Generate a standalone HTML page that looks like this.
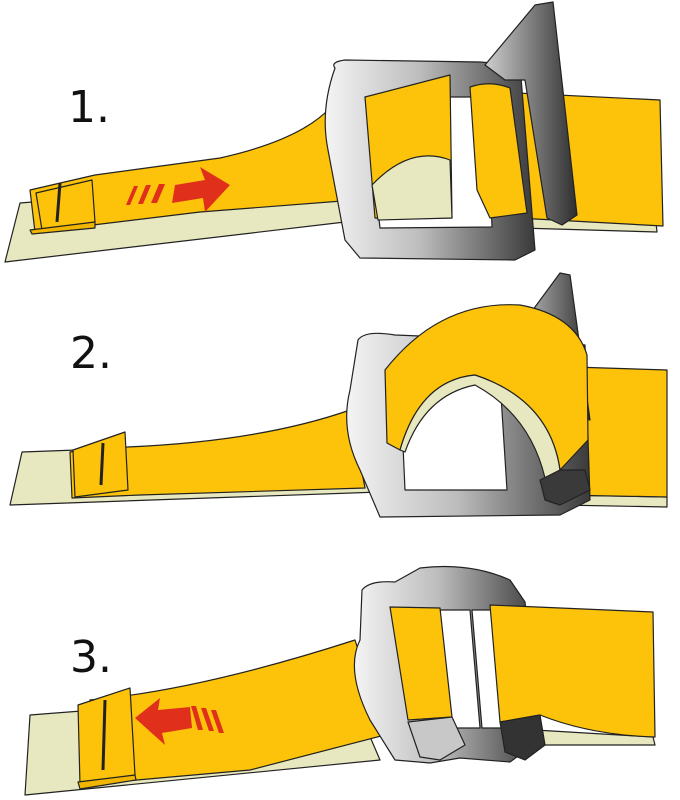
<!DOCTYPE html>
<html><head><meta charset="utf-8"><style>
html,body{margin:0;padding:0;background:#fff;}
svg{display:block}
text{font-family:"DejaVu Sans","Liberation Sans",sans-serif;}
</style></head><body>
<svg width="680" height="800" viewBox="0 0 680 800" xmlns="http://www.w3.org/2000/svg">
<defs>
<linearGradient id="m" x1="0" y1="0" x2="1" y2="0">
<stop offset="0" stop-color="#f4f4f4"/><stop offset="0.45" stop-color="#bdbdbd"/><stop offset="1" stop-color="#3a3a3a"/>
</linearGradient>
<linearGradient id="m2" x1="0" y1="0" x2="1" y2="0">
<stop offset="0" stop-color="#cfcfcf"/><stop offset="1" stop-color="#2e2e2e"/>
</linearGradient>
</defs>
<g stroke="#222" stroke-width="1.2" stroke-linejoin="round">
<!-- PANEL 1 -->
<text x="68" y="122" font-size="44" stroke="none" fill="#111">1.</text>
<path d="M20,203 L330,178 L345,222 L5,262 Z" fill="#e8e8c0"/>
<path d="M515,205 L655,213 L657,232 L520,228 Z" fill="#e8e8c0"/>
<path d="M30,190 L95,175 L220,158 Q300,140 330,108 L355,200 L200,212 L35,232 Z" fill="#fcc30a"/>
<path d="M36,193 L92,180 L95,222 L42,230 Z" fill="#fcc30a"/>
<path d="M30,230 L95,222 L95,228 L32,234 Z" fill="#f0b500"/>
<line x1="60" y1="183" x2="57" y2="222" stroke-width="3"/>
<path d="M517,93 L660,100 L663,226 L517,218 Z" fill="#fcc30a"/>
<path d="M335,68 Q330,62 345,60 L480,62 L520,65 L535,250 L515,260 L360,258 L345,240 L328,150 Q320,110 335,68 Z M365,97 L487,97 L492,227 L380,228 Z" fill="url(#m)" fill-rule="evenodd"/>
<path d="M365,97 L450,75 L452,218 L375,218 Z" fill="#fcc30a"/>
<path d="M372,185 Q410,145 450,160 L452,218 L378,220 Z" fill="#e8e8c0"/>
<path d="M470,87 Q490,80 510,88 L527,213 L490,218 L477,190 Z" fill="#fcc30a"/>
<path d="M485,65 L535,5 L553,2 L577,215 L562,225 L547,218 L525,80 L505,80 Z" fill="url(#m2)"/>
<g stroke="none" fill="#e0301c">
<path d="M175,185 L205,180 L200,167 L230,185 L205,212 L203,198 L172,203 Z"/>
<path d="M126,205 L134,186 L138,186 L130,205 Z"/><path d="M138,204 L146,185 L151,185 L143,204 Z"/><path d="M151,203 L159,184 L165,184 L157,203 Z"/>
</g>
<!-- PANEL 2 -->
<text x="70" y="368" font-size="44" stroke="none" fill="#111">2.</text>
<path d="M22,452 L350,440 L380,492 L10,505 Z" fill="#e8e8c0"/>
<path d="M555,495 L667,497 L667,507 L560,505 Z" fill="#e8e8c0"/>
<path d="M70,452 L95,448 Q250,445 350,410 L365,488 L140,495 L72,498 Z" fill="#fcc30a"/>
<path d="M73,450 L125,432 L128,490 L75,497 Z" fill="#fcc30a"/>
<line x1="103" y1="443" x2="101" y2="485" stroke-width="3"/>
<path d="M573,367 L667,370 L667,497 L560,495 Z" fill="#fcc30a"/>
<path d="M358,340 Q365,330 395,335 L520,340 L585,345 L590,500 L560,515 L380,517 L360,470 Q340,430 350,390 Z M400,380 L500,380 L507,490 L405,490 Z" fill="url(#m)" fill-rule="evenodd"/>
<path d="M513,337 L560,273 L570,275 L590,420 L560,410 Z" fill="url(#m2)"/>
<path d="M387,443 L385,370 Q440,300 520,305 Q575,315 587,355 L588,440 L560,470 Q550,400 475,375 Q420,380 400,450 Z" fill="#fcc30a"/>
<path d="M400,450 Q420,380 475,375 Q550,400 560,470 L545,478 Q530,415 475,385 Q425,395 405,452 Z" fill="#e8e8c0"/>
<path d="M540,480 L560,470 L585,470 L590,490 L560,505 L545,500 Z" fill="#3a3a3a"/>
<!-- PANEL 3 -->
<text x="70" y="672" font-size="44" stroke="none" fill="#111">3.</text>
<path d="M30,715 L350,690 L380,760 L25,795 Z" fill="#e8e8c0"/>
<path d="M535,730 L653,737 L655,745 L540,745 Z" fill="#e8e8c0"/>
<path d="M90,700 Q200,690 355,640 L385,735 L250,770 L80,785 Z" fill="#fcc30a"/>
<path d="M78,705 L130,688 L135,775 L80,785 Z" fill="#fcc30a"/>
<path d="M78,782 L135,775 L136,780 L80,789 Z" fill="#f0b500"/>
<line x1="105" y1="700" x2="103" y2="770" stroke-width="3"/>
<path d="M362,590 Q370,580 395,582 L420,568 Q470,562 510,580 L525,602 L540,740 L510,762 L460,758 L430,763 L395,760 L370,720 Q345,670 360,640 Z M440,610 L470,610 L480,728 L450,728 Z M472,610 L503,610 L510,728 L482,728 Z" fill="url(#m)" fill-rule="evenodd"/>
<path d="M490,605 Q560,608 653,612 L655,737 Q590,735 540,715 L500,722 Z" fill="#fcc30a"/>
<path d="M500,722 L540,715 L545,745 L525,760 L505,752 Z" fill="#333"/>
<path d="M390,607 L440,608 L452,717 L408,720 Z" fill="#fcc30a"/>
<path d="M408,722 L452,717 L465,745 L440,760 L420,757 Z" fill="#c8c8c8"/>
<g stroke="none" fill="#e0301c">
<path d="M135,718 L160,698 L158,710 L190,707 L192,728 L162,733 L165,745 Z"/>
<path d="M196,706 L203,730 L198,730 L191,706 Z"/><path d="M206,708 L214,731 L209,731 L201,708 Z"/><path d="M216,710 L224,733 L219,733 L211,710 Z"/>
</g>
</g>
</svg>
</body></html>
